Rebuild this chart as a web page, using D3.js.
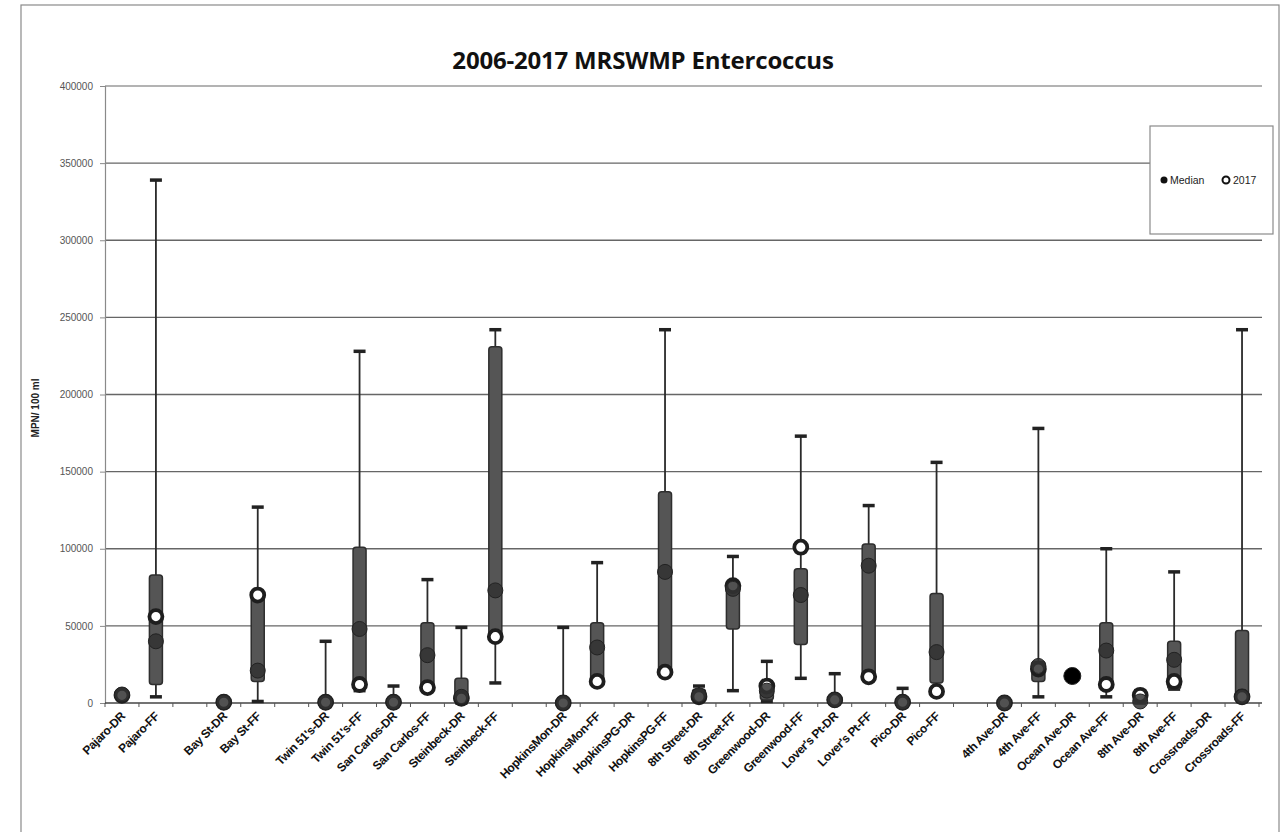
<!DOCTYPE html>
<html>
<head>
<meta charset="utf-8">
<script src="https://cdn.jsdelivr.net/npm/d3@7"></script>
<style>
  html, body { margin: 0; padding: 0; background: #fff; }
  svg { display: block; }
</style>
</head>
<body>
<svg id="chart" width="1283" height="832"></svg>
<script>
// Sampling sites (blank entries are spacer slots between site groups)
const sites = [
  "Pajaro-DR", "Pajaro-FF", "",
  "Bay St-DR", "Bay St-FF", "",
  "Twin 51's-DR", "Twin 51's-FF", "San Carlos-DR", "San Carlos-FF", "Steinbeck-DR", "Steinbeck-FF", "",
  "HopkinsMon-DR", "HopkinsMon-FF", "HopkinsPG-DR", "HopkinsPG-FF", "8th Street-DR", "8th Street-FF",
  "Greenwood-DR", "Greenwood-FF", "Lover's Pt-DR", "Lover's Pt-FF", "Pico-DR", "Pico-FF", "",
  "4th Ave-DR", "4th Ave-FF", "Ocean Ave-DR", "Ocean Ave-FF", "8th Ave-DR", "8th Ave-FF",
  "Crossroads-DR", "Crossroads-FF"
];

// Enterococcus, MPN/100 ml, 2006-2017 summary per site
const minValues = [4000, 4000, null, 0, 1000, null, 0, 8000, 0, 8000, 0, 13000, null,
  0, 14000, null, 19000, 2000, 8000, 1000, 16000, 0, 16000, 0, 7000, null,
  0, 4000, 17500, 4000, 0, 9000, null, 1000];
const q1Values = [4500, 12000, null, 0, 14000, null, 0, 9000, 0, 8000, 1000, 42000, null,
  0, 14000, null, 19000, 2500, 48000, 2000, 38000, 500, 16000, 0, 13000, null,
  0, 14000, 17500, 11000, 0, 9000, null, 1500];
const medianValues = [5500, 40000, null, 500, 21000, null, 500, 48000, 500, 31000, 4000, 73000, null,
  0, 36000, null, 85000, 5000, 74000, 8000, 70000, 2000, 89000, 500, 33000, null,
  0, 24000, 17500, 34000, 1000, 28000, null, 4000];
const q3Values = [6500, 83000, null, 1000, 73000, null, 1500, 101000, 1500, 52000, 16000, 231000, null,
  500, 52000, null, 137000, 9000, 79000, 14000, 87000, 3000, 103000, 1500, 71000, null,
  500, 27000, 17500, 52000, 7000, 40000, null, 47000];
const maxValues = [7000, 339000, null, 1000, 127000, null, 40000, 228000, 11000, 80000, 49000, 242000, null,
  49000, 91000, null, 242000, 11000, 95000, 27000, 173000, 19000, 128000, 9500, 156000, null,
  500, 178000, 17500, 100000, 8000, 85000, null, 242000];
const values2017 = [5000, 56000, null, 500, 70000, null, 500, 12000, 500, 10000, 3000, 43000, null,
  0, 14000, null, 20000, 4000, 76000, 11000, 101000, 2000, 17000, 500, 7500, null,
  0, 22000, null, 12000, 5000, 14000, null, 4000];

const yTicks = [0, 50000, 100000, 150000, 200000, 250000, 300000, 350000, 400000];

const chartTitle = "2006-2017 MRSWMP Entercoccus";
const yTitle = "MPN/ 100 ml";
const legendItems = ["Median", "2017"];

const rows = sites.map((s, i) => ({
  key: i, site: s,
  min: minValues[i], q1: q1Values[i], median: medianValues[i],
  q3: q3Values[i], max: maxValues[i], v2017: values2017[i]
}));

const svg = d3.select("#chart");
const plot = { left: 105, right: 1259, top: 86, bottom: 703 };

const x = d3.scaleBand()
  .domain(rows.map(d => d.key))
  .range([plot.left, plot.right])
  .paddingInner(0).paddingOuter(0);

const y = d3.scaleLinear()
  .domain([0, 400000])
  .range([plot.bottom, plot.top]);

// Chart frame
svg.append("rect")
  .attr("x", 21).attr("y", 5).attr("width", 1258).attr("height", 845)
  .attr("fill", "#fff").attr("stroke", "#8a8a8a").attr("stroke-width", 1.2);

// Title
svg.append("text")
  .attr("x", 643).attr("y", 69)
  .attr("text-anchor", "middle")
  .attr("font-family", "'Open Sans', 'Liberation Sans', sans-serif")
  .attr("font-weight", 700)
  .attr("font-size", 24)
  .attr("letter-spacing", -0.2)
  .attr("fill", "#111")
  .text(chartTitle);

// Horizontal gridlines
svg.append("g")
  .selectAll("line")
  .data(yTicks.filter(t => t > 0))
  .join("line")
  .attr("x1", plot.left).attr("x2", plot.right + 3)
  .attr("y1", d => y(d)).attr("y2", d => y(d))
  .attr("stroke", d => d === 400000 ? "#9a9a9a" : "#666")
  .attr("stroke-width", 1.3);

// Y axis
const yAxis = svg.append("g")
  .attr("transform", `translate(${plot.left},0)`)
  .call(d3.axisLeft(y).tickValues(yTicks).tickSize(5).tickFormat(d3.format("d")));
yAxis.select(".domain").attr("stroke", "#8a8a8a").attr("stroke-width", 1.2);
yAxis.selectAll(".tick line").attr("stroke", "#8a8a8a");
yAxis.selectAll(".tick text")
  .attr("x", -12)
  .attr("font-family", "'Liberation Sans', Arial, sans-serif")
  .attr("font-size", 10)
  .attr("fill", "#555");

// Y axis title
svg.append("text")
  .attr("transform", `translate(39,408) rotate(-90)`)
  .attr("text-anchor", "middle")
  .attr("font-family", "'Liberation Sans', Arial, sans-serif")
  .attr("font-weight", 700)
  .attr("font-size", 10)
  .attr("fill", "#222")
  .text(yTitle);

// X axis with ticks at category boundaries
const xAxisG = svg.append("g");
xAxisG.append("line")
  .attr("x1", plot.left).attr("x2", plot.right + 3)
  .attr("y1", plot.bottom).attr("y2", plot.bottom)
  .attr("stroke", "#444").attr("stroke-width", 1.5);
xAxisG.selectAll("line.tick")
  .data(rows.map(d => d.key).concat([rows.length]))
  .join("line")
  .attr("class", "tick")
  .attr("x1", d => d < rows.length ? x(d) : plot.right)
  .attr("x2", d => d < rows.length ? x(d) : plot.right)
  .attr("y1", plot.bottom).attr("y2", plot.bottom + 4)
  .attr("stroke", "#555").attr("stroke-width", 1);

// Rotated category labels
xAxisG.selectAll("text")
  .data(rows.filter(d => d.site !== ""))
  .join("text")
  .attr("transform", d => `translate(${x(d.key) + x.bandwidth() / 2 + 4},${plot.bottom + 14}) rotate(-45)`)
  .attr("text-anchor", "end")
  .attr("font-family", "'Liberation Sans', Arial, sans-serif")
  .attr("font-weight", 700)
  .attr("font-size", 12)
  .attr("letter-spacing", -0.4)
  .attr("fill", "#111")
  .text(d => d.site);

// Box plots
const data = rows.filter(d => d.median !== null);
const boxW = 13, capW = 12;
const g = svg.append("g");
const cx = d => x(d.key) + x.bandwidth() / 2;

// whiskers
g.selectAll("line.whisker")
  .data(data.filter(d => d.max > d.min))
  .join("line")
  .attr("class", "whisker")
  .attr("x1", cx).attr("x2", cx)
  .attr("y1", d => y(d.max)).attr("y2", d => y(d.min))
  .attr("stroke", "#2a2a2a").attr("stroke-width", 1.8);

// caps
["max", "min"].forEach(k => {
  g.selectAll(`line.cap-${k}`)
    .data(data.filter(d => d.max > d.min))
    .join("line")
    .attr("class", `cap-${k}`)
    .attr("x1", d => cx(d) - capW / 2).attr("x2", d => cx(d) + capW / 2)
    .attr("y1", d => y(d[k])).attr("y2", d => y(d[k]))
    .attr("stroke", "#222").attr("stroke-width", 3.5);
});

// boxes (Q1 to Q3)
g.selectAll("rect.box")
  .data(data.filter(d => d.q3 > d.q1))
  .join("rect")
  .attr("class", "box")
  .attr("x", d => cx(d) - boxW / 2)
  .attr("width", boxW)
  .attr("y", d => y(d.q3))
  .attr("height", d => y(d.q1) - y(d.q3))
  .attr("rx", 3)
  .attr("fill", "#555")
  .attr("stroke", "#2e2e2e").attr("stroke-width", 1.5);

// 2017 markers (open circles)
g.selectAll("circle.y2017")
  .data(data.filter(d => d.v2017 !== null))
  .join("circle")
  .attr("class", "y2017")
  .attr("cx", cx).attr("cy", d => y(d.v2017))
  .attr("r", 6.5)
  .attr("fill", "#fff")
  .attr("stroke", "#1e1e1e").attr("stroke-width", 3.8);

// median markers (filled circles)
g.selectAll("circle.median")
  .data(data)
  .join("circle")
  .attr("class", "median")
  .attr("cx", cx).attr("cy", d => y(d.median))
  .attr("r", d => d.v2017 === null ? 8.5 : 7.5)
  .attr("fill", d => d.v2017 === null ? "#000" : "#333")
  .attr("fill-opacity", d => d.v2017 === null ? 1 : 0.85)
  .attr("stroke", "#222").attr("stroke-width", 1);

// Legend
const lg = svg.append("g");
lg.append("rect")
  .attr("x", 1150).attr("y", 126).attr("width", 123).attr("height", 108)
  .attr("fill", "#fff").attr("stroke", "#8a8a8a").attr("stroke-width", 1.2);
lg.append("circle").attr("cx", 1164).attr("cy", 180).attr("r", 3.5).attr("fill", "#111");
lg.append("text").attr("x", 1170).attr("y", 184)
  .attr("font-family", "'Liberation Sans', Arial, sans-serif")
  .attr("font-size", 10.5).attr("fill", "#222").text(legendItems[0]);
lg.append("circle").attr("cx", 1226).attr("cy", 180).attr("r", 3.5)
  .attr("fill", "#fff").attr("stroke", "#111").attr("stroke-width", 2);
lg.append("text").attr("x", 1233).attr("y", 184)
  .attr("font-family", "'Liberation Sans', Arial, sans-serif")
  .attr("font-size", 10.5).attr("fill", "#222").text(legendItems[1]);
</script>
</body>
</html>
